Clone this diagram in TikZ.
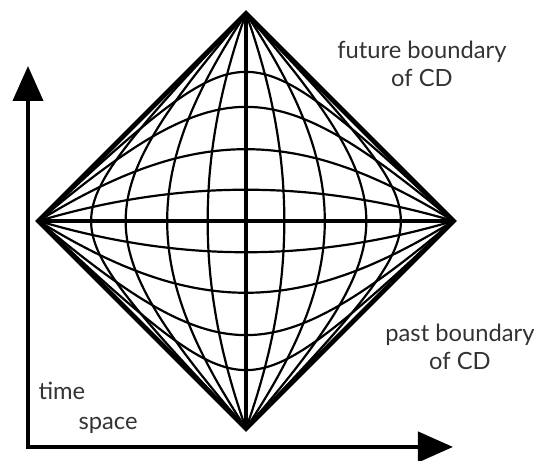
\documentclass[tikz,border=0pt]{standalone}
\usepackage{fontspec}
\setmainfont{Lato}
\usetikzlibrary{arrows.meta}

\tikzset{
    declare function = {
        th(\a) = sign(\a)*(1 - exp(-2*abs(\a)))/(1 + exp(-2*abs(\a)));
        cdx(\p,\q) = (th((\p+\q)/2) - th((\p-\q)/2))/2;
        cdt(\p,\q) = (th((\p+\q)/2) + th((\p-\q)/2))/2;
    }
}

\begin{document}
\begin{tikzpicture}[
        x = 4.15cm, y = 4.15cm,
        >= {Triangle[length = 7mm, width = 6mm]},
        rim/.style = {line width = 2.7pt, line join = miter},
        gridcurve/.style = {line width = 1.25pt},
        midline/.style = {line width = 1.9pt},
        axisline/.style = {line width = 2.3pt, line join = miter},
        note/.style = {font = \fontsize{13.5}{15.5}\selectfont, align = center, text = black!80}
    ]

        \useasboundingbox (-1.1855, -1.152) rectangle (1.388, 1.065);

        % corners of the diamond
        \coordinate (top) at (0, 1);
        \coordinate (bot) at (0, -1);
        \coordinate (lft) at (-1, 0);
        \coordinate (rgt) at (1, 0);

        % axes
        \coordinate (origin) at (-1.0506, -1.089);
        \coordinate (tup) at (-1.0506, 0.747);
        \coordinate (tright) at (0.9976, -1.089);

        % flow lines, bottom to top
        \foreach \c in {-1.93, -1.325, -0.8, -0.374, 0.374, 0.8, 1.325, 1.93}
            \draw[gridcurve] plot[domain = -11:11, samples = 161, variable = \s, smooth]
                ({cdx(\s,\c)}, {cdt(\s,\c)});

        % slices, left to right
        \foreach \c in {-1.81, -1.237, -0.722, -0.304, 0.304, 0.722, 1.237, 1.81}
            \draw[gridcurve] plot[domain = -11:11, samples = 161, variable = \q, smooth]
                ({cdx(\c,\q)}, {cdt(\c,\q)});

        \draw[midline] (top) -- (bot);
        \draw[midline] (lft) -- (rgt);

        \draw[rim] (top) -- (rgt) -- (bot) -- (lft) -- cycle;

        \draw[axisline, <->] (tup) -- (origin) -- (tright);

        \node[note] (future) at (0.848, 0.757) {future boundary\\of CD};
        \node[note] (past) at (1.031, -0.607) {past boundary\\of CD};
        \node[note] (time) at (-0.887, -0.819) {time};
        \node[note] (space) at (-0.665, -0.983) {space};

\end{tikzpicture}
\end{document}
